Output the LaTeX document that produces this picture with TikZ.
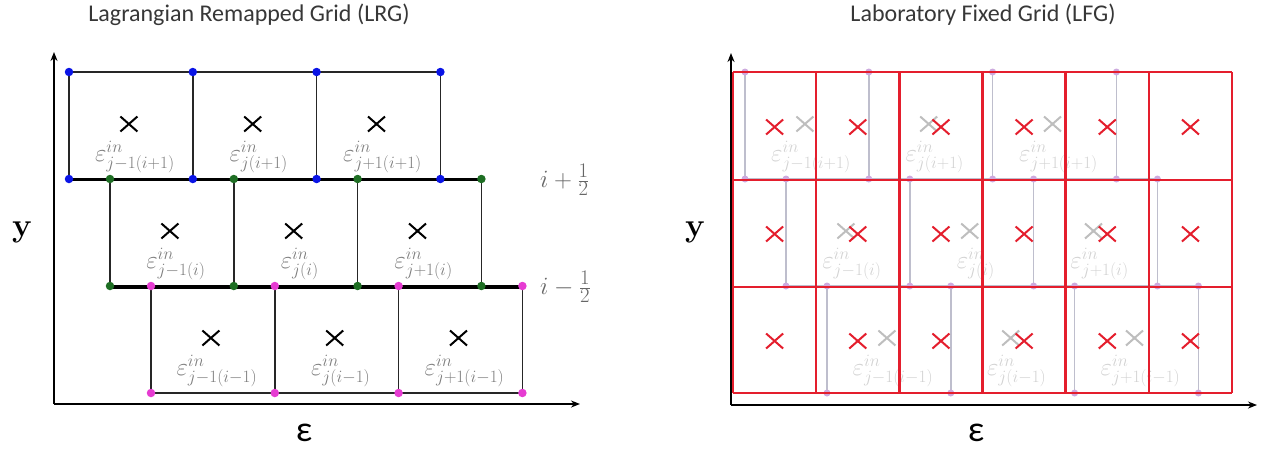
\documentclass[tikz,border=0pt]{standalone}
\usepackage{fontspec}
\newfontfamily\carlito{Carlito}
\usetikzlibrary{arrows.meta}
\definecolor{dotblue}{RGB}{10,20,230}
\definecolor{dotgreen}{RGB}{30,110,35}
\definecolor{dotmag}{RGB}{230,60,210}
\definecolor{gridred}{RGB}{228,30,45}
\definecolor{ghost}{RGB}{190,190,205}
\definecolor{ghostdot}{RGB}{205,170,222}
\definecolor{ghostx}{RGB}{190,190,190}
\definecolor{ghosttext}{RGB}{210,210,210}
\definecolor{labgray}{RGB}{125,125,125}
\definecolor{titlegray}{RGB}{55,55,55}
\begin{document}
\begin{tikzpicture}[x=1pt,y=-1pt,
  cellline/.style={line width=1.6pt,black!85},
  ghostline/.style={line width=1.5pt,ghost},
  thickline/.style={line width=3.6pt,black},
  redline/.style={line width=2.6pt,gridred},
  axis/.style={line width=2pt,black,-{Stealth[length=9pt,width=7pt]}},
  vdot/.style={circle,inner sep=0pt,minimum size=8.5pt},
  gdot/.style={circle,inner sep=0pt,minimum size=7pt,fill=ghostdot},
  title/.style={font=\carlito\fontsize{24}{28}\selectfont,text=titlegray},
  ylab/.style={font=\fontsize{33}{36}\selectfont\bfseries},
  elab/.style={font=\carlito\fontsize{36}{40}\selectfont},
  ilab/.style={font=\fontsize{29}{32}\selectfont,text=black!60,anchor=west,inner sep=0pt},
  clab/.style={font=\fontsize{25}{28}\selectfont,inner sep=0pt},
  xc/.pic={\draw[line width=2pt] (-8.5,-7.5) -- (8.5,7.5) (-8.5,7.5) -- (8.5,-7.5);}
]
\useasboundingbox (0,0) rectangle (1271,451);
\def\cw{123.8}
\def\rh{107}

% ---------- titles ----------
\node[title] (t1) at (249,15) {Lagrangian Remapped Grid (LRG)};
\node[title] (t2) at (983,15) {Laboratory Fixed Grid (LFG)};

% ---------- ghost LRG in right panel ----------
\begin{scope}[xshift=676pt]
\foreach \r/\ii in {0/i+1,1/i,2/i-1}{
  \pgfmathsetmacro\xo{69+41*\r}
  \pgfmathsetmacro\yt{72+107*\r}
  \foreach \c/\jj in {0/j-1,1/j,2/j+1}{
    \pgfmathsetmacro\xl{\xo+\cw*\c}
    \draw[ghostline] (\xl,\yt) rectangle ++(\cw,\rh);
    \pic[color=ghostx] at (\xl+\cw/2-2,\yt+52) {xc};
    \node[clab,text=ghosttext] (g-\r-\c) at (\xl+\cw/2+4,\yt+85) {$\varepsilon^{in}_{\jj(\ii)}$};
  }
}
\foreach \r in {0,1,2}{
  \pgfmathsetmacro\xo{69+41*\r}
  \pgfmathsetmacro\yt{72+107*\r}
  \foreach \k in {0,...,3}{
    \node[gdot] (gt-\r-\k) at (\xo+\cw*\k,\yt) {};
    \node[gdot] (gb-\r-\k) at (\xo+\cw*\k,\yt+\rh) {};
  }
}
\end{scope}

% ---------- red fixed grid ----------
\foreach \k in {0,...,6}{
  \draw[redline] (733+83.17*\k,72) -- (733+83.17*\k,393);
}
\foreach \yy in {72,180,287,393}{
  \draw[redline] (733,\yy) -- (1232,\yy);
}
\foreach \r in {0,1,2}{
  \foreach \c in {0,...,5}{
    \pic[color=gridred] at (733+83.17*\c+41.6,72+107*\r+55) {xc};
  }
}

% ---------- left LRG ----------
\foreach \r/\ii in {0/i+1,1/i,2/i-1}{
  \pgfmathsetmacro\xo{69+41*\r}
  \pgfmathsetmacro\yt{72+107*\r}
  \foreach \c/\jj in {0/j-1,1/j,2/j+1}{
    \pgfmathsetmacro\xl{\xo+\cw*\c}
    \draw[cellline] (\xl,\yt) rectangle ++(\cw,\rh);
    \pic[color=black] at (\xl+\cw/2-2,\yt+52) {xc};
    \node[clab,text=labgray] (l-\r-\c) at (\xl+\cw/2+4,\yt+85) {$\varepsilon^{in}_{\jj(\ii)}$};
  }
}
\draw[thickline] (69,179.5) -- (484,179.5);
\draw[thickline] (110,287) -- (522,287);
\foreach \r/\col in {0/dotblue,1/dotgreen,2/dotmag}{
  \pgfmathsetmacro\xo{69+41*\r}
  \pgfmathsetmacro\yt{72+107*\r}
  \foreach \k in {0,...,3}{
    \node[vdot,fill=\col] (dt-\r-\k) at (\xo+\cw*\k,\yt) {};
    \node[vdot,fill=\col] (db-\r-\k) at (\xo+\cw*\k,\yt+\rh) {};
  }
}
\node[ilab] (ip) at (540,180) {$i+\frac{1}{2}$};
\node[ilab] (im) at (540,287) {$i-\frac{1}{2}$};

% ---------- axes ----------
\coordinate (lo) at (54,404);
\coordinate (ly) at (54,52);
\coordinate (lx) at (580,404);
\draw[axis] (lo) -- (ly);
\draw[axis] (lo) -- (lx);
\coordinate (ro) at (731,405);
\coordinate (ry) at (731,53);
\coordinate (rx) at (1257,405);
\draw[axis] (ro) -- (ry);
\draw[axis] (ro) -- (rx);

\node[ylab] (y1) at (22,232) {y};
\node[ylab] (y2) at (695,232) {y};
\node[elab] (e1) at (304,433) {ε};
\node[elab] (e2) at (976,433) {ε};
\end{tikzpicture}
\end{document}
